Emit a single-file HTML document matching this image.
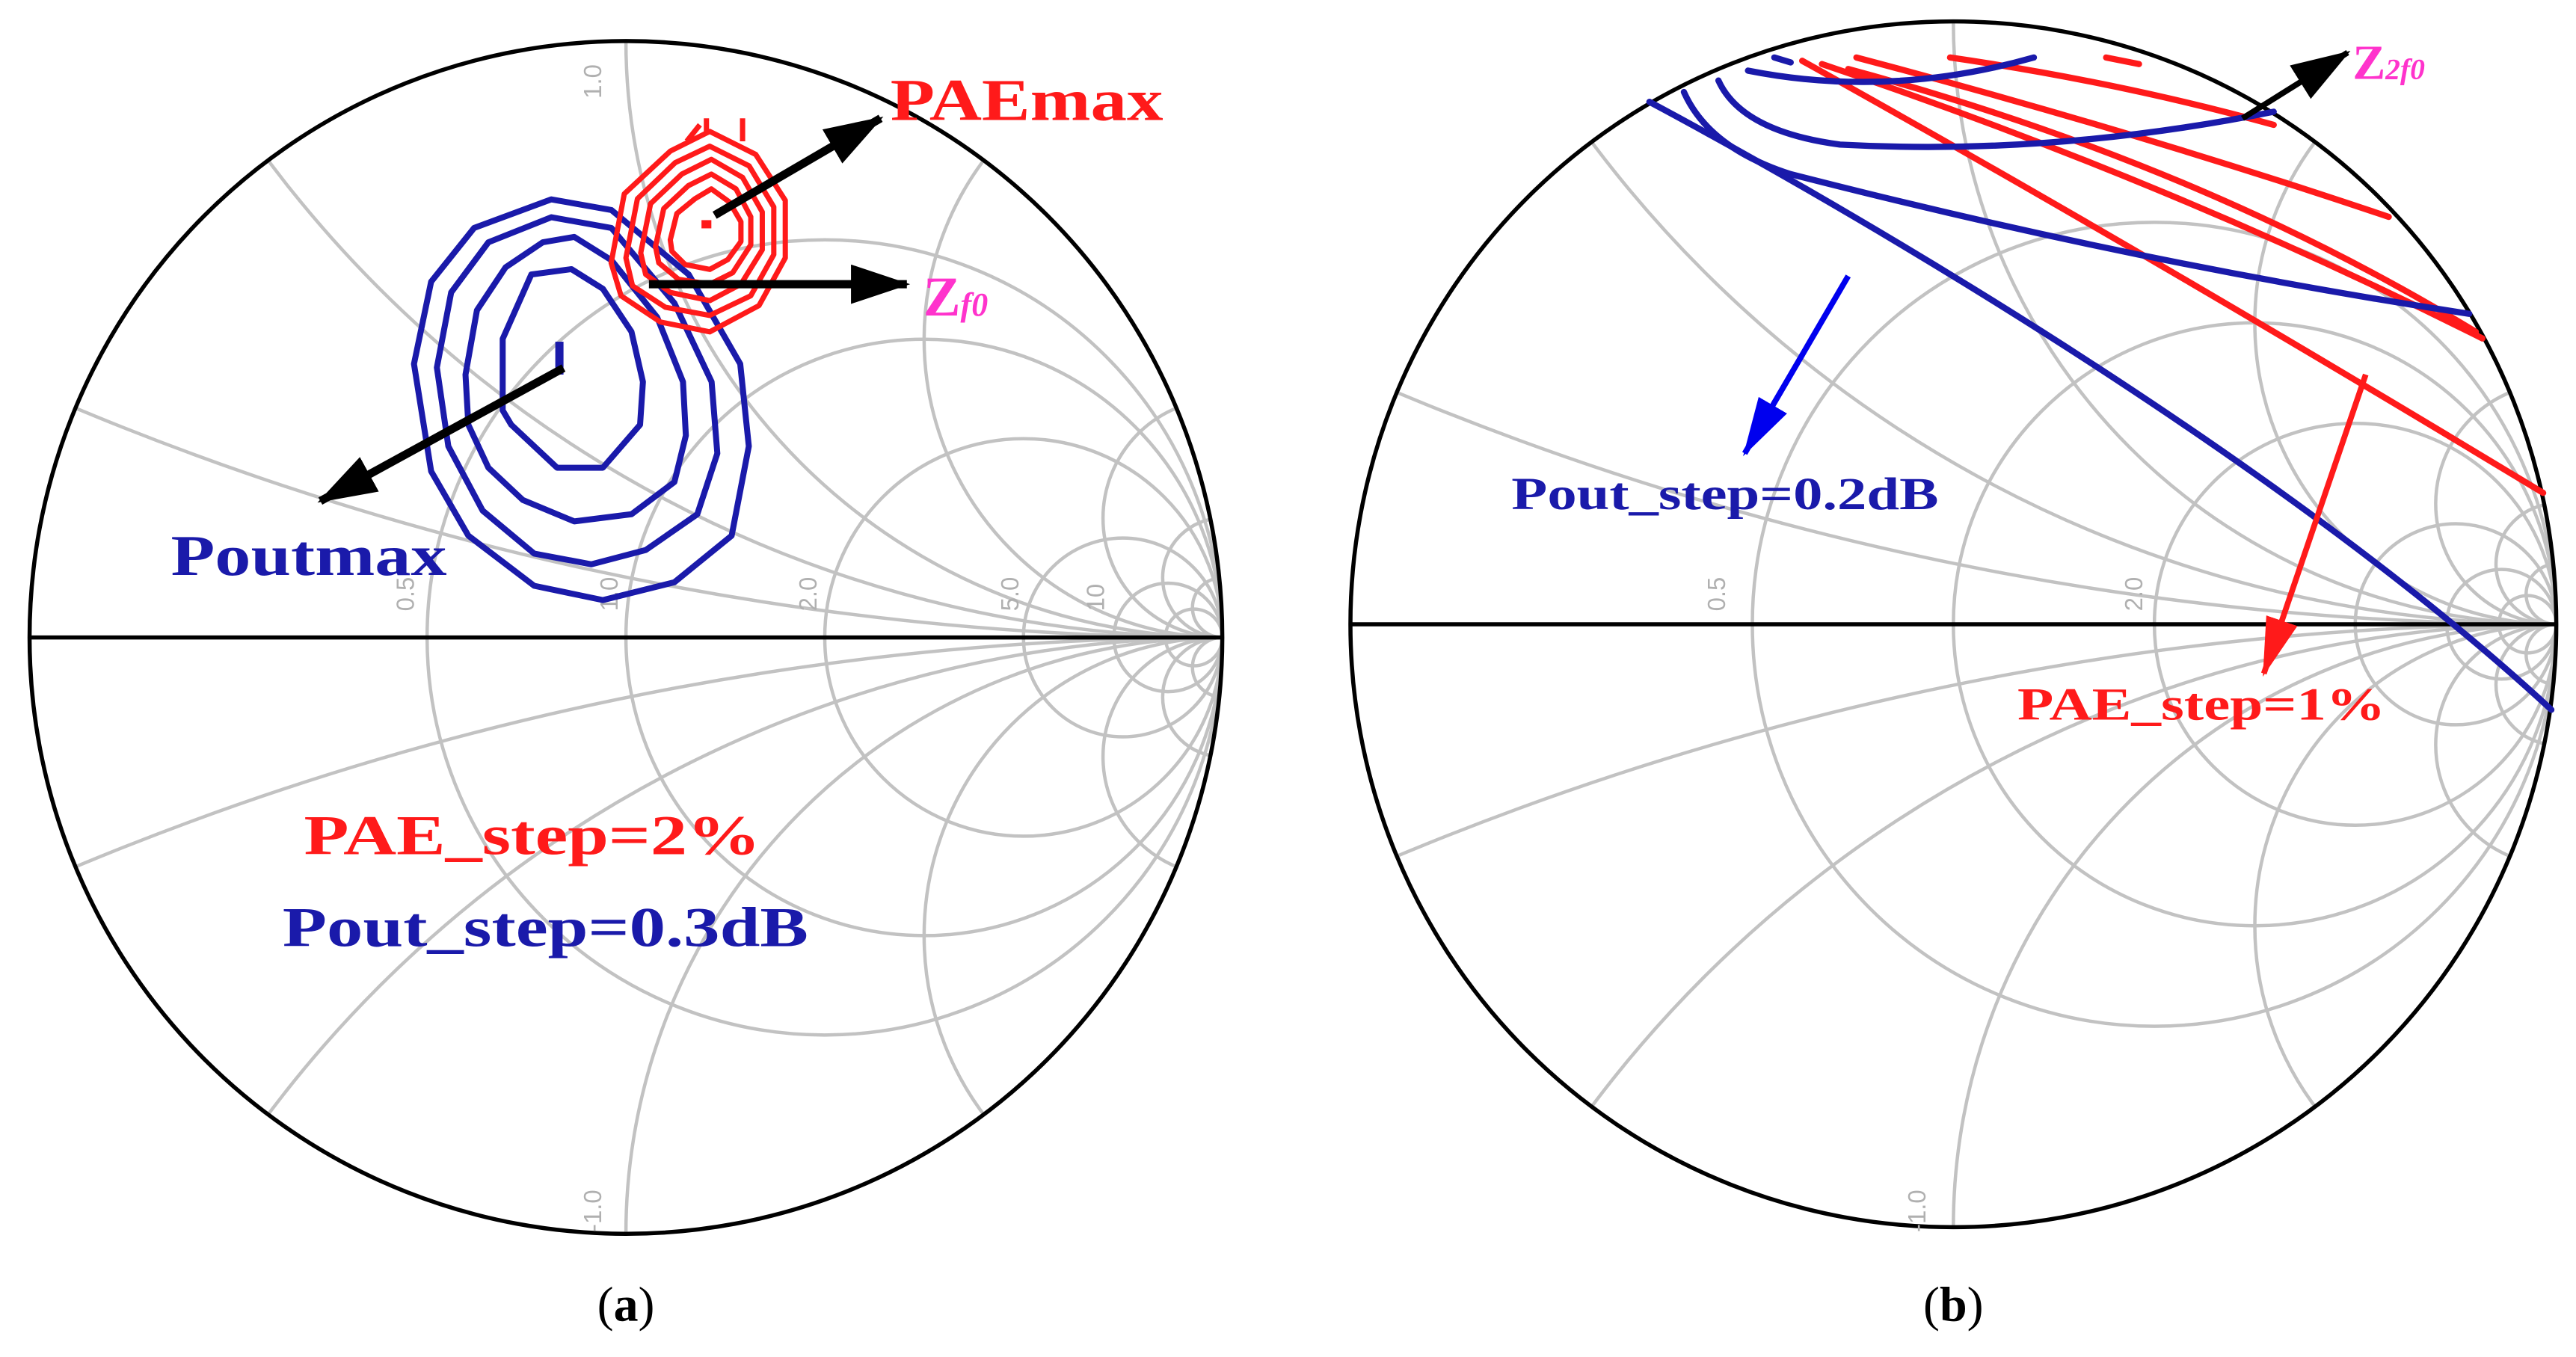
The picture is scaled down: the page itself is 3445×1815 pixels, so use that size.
<!DOCTYPE html>
<html><head><meta charset="utf-8"><style>html,body{margin:0;padding:0;background:#fff;overflow:hidden;width:3445px;height:1815px}svg{display:block}</style></head><body>
<svg width="3445" height="1815" viewBox="0 0 1568 826" preserveAspectRatio="none" xmlns="http://www.w3.org/2000/svg">
<defs>
<clipPath id="uc"><circle cx="0" cy="0" r="1"/></clipPath>
<g id="grid" fill="none" stroke="#c2c2c2" stroke-width="4.5" >
<g clip-path="url(#uc)">
<circle cx="0.3333" cy="0" r="0.6667" vector-effect="non-scaling-stroke"/>
<circle cx="0.5" cy="0" r="0.5" vector-effect="non-scaling-stroke"/>
<circle cx="0.6667" cy="0" r="0.3333" vector-effect="non-scaling-stroke"/>
<circle cx="0.8333" cy="0" r="0.1667" vector-effect="non-scaling-stroke"/>
<circle cx="0.9091" cy="0" r="0.0909" vector-effect="non-scaling-stroke"/>
<circle cx="0.9524" cy="0" r="0.0476" vector-effect="non-scaling-stroke"/>
<circle cx="1" cy="-5" r="5" vector-effect="non-scaling-stroke"/>
<circle cx="1" cy="5" r="5" vector-effect="non-scaling-stroke"/>
<circle cx="1" cy="-2" r="2" vector-effect="non-scaling-stroke"/>
<circle cx="1" cy="2" r="2" vector-effect="non-scaling-stroke"/>
<circle cx="1" cy="-1" r="1" vector-effect="non-scaling-stroke"/>
<circle cx="1" cy="1" r="1" vector-effect="non-scaling-stroke"/>
<circle cx="1" cy="-0.5" r="0.5" vector-effect="non-scaling-stroke"/>
<circle cx="1" cy="0.5" r="0.5" vector-effect="non-scaling-stroke"/>
<circle cx="1" cy="-0.2" r="0.2" vector-effect="non-scaling-stroke"/>
<circle cx="1" cy="0.2" r="0.2" vector-effect="non-scaling-stroke"/>
<circle cx="1" cy="-0.1" r="0.1" vector-effect="non-scaling-stroke"/>
<circle cx="1" cy="0.1" r="0.1" vector-effect="non-scaling-stroke"/>
<circle cx="1" cy="-0.05" r="0.05" vector-effect="non-scaling-stroke"/>
<circle cx="1" cy="0.05" r="0.05" vector-effect="non-scaling-stroke"/>
</g>
<line x1="-1" y1="0" x2="1" y2="0" stroke="#000" stroke-width="5.5" vector-effect="non-scaling-stroke"/>
<circle cx="0" cy="0" r="1" stroke="#000" stroke-width="5.5" vector-effect="non-scaling-stroke"/>
</g>
<marker id="ak" markerUnits="userSpaceOnUse" markerWidth="40" markerHeight="30" refX="34" refY="12" orient="auto"><path d="M0,0 L36,12 L0,24 Z" fill="#000"/></marker>
<marker id="ab" markerUnits="userSpaceOnUse" markerWidth="40" markerHeight="30" refX="34" refY="10" orient="auto"><path d="M0,0 L36,10 L0,20 Z" fill="#0000ee"/></marker>
<marker id="ar" markerUnits="userSpaceOnUse" markerWidth="40" markerHeight="30" refX="34" refY="10" orient="auto"><path d="M0,0 L36,10 L0,20 Z" fill="#ff1a1a"/></marker>
</defs>

<use href="#grid" transform="translate(381,388) scale(363)"/>
<use href="#grid" transform="translate(1189,380) scale(367)"/>

<g font-family="Liberation Sans, sans-serif" font-size="15" fill="#b0b0b0">
<text x="366" y="60" transform="rotate(-90 366 60)">1.0</text>
<text x="252" y="372" transform="rotate(-90 252 372)">0.5</text>
<text x="376" y="372" transform="rotate(-90 376 372)">1.0</text>
<text x="497" y="372" transform="rotate(-90 497 372)">2.0</text>
<text x="620" y="372" transform="rotate(-90 620 372)">5.0</text>
<text x="672" y="372" transform="rotate(-90 672 372)">10</text>
<text x="1050" y="372" transform="rotate(-90 1050 372)">0.5</text>
<text x="1304" y="372" transform="rotate(-90 1304 372)">2.0</text>
<text x="1172" y="750" transform="rotate(-90 1172 750)">-1.0</text>
<text x="366" y="750" transform="rotate(-90 366 750)">-1.0</text>
</g>

<g fill="none" stroke="#1a1aaa" stroke-width="8" stroke-linejoin="round" transform="translate(227.6,36.4) scale(0.1742,0.2178)">
<path vector-effect="non-scaling-stroke" d="M140,850 L200,620 L350,470 L620,390 L830,420 L1100,600 L1280,850 L1310,1080 L1250,1330 L1050,1460 L800,1510 L560,1470 L330,1330 L200,1150 Z"/>
<path vector-effect="non-scaling-stroke" d="M220,860 L270,650 L400,510 L620,440 L830,470 L1050,680 L1180,900 L1200,1100 L1130,1270 L950,1370 L760,1410 L560,1380 L380,1260 L260,1080 Z"/>
<path vector-effect="non-scaling-stroke" d="M320,880 L360,700 L460,580 L590,510 L700,495 L830,560 L990,720 L1080,900 L1090,1050 L1050,1180 L900,1270 L700,1290 L520,1230 L400,1140 L330,1020 Z"/>
<path vector-effect="non-scaling-stroke" d="M450,980 L450,780 L550,600 L690,585 L800,640 L900,760 L940,900 L930,1020 L800,1140 L640,1140 L480,1020 Z"/>
</g>
<rect x="338" y="208" width="5" height="20" fill="#1a1aaa"/>
<g fill="none" stroke="#ff1a1a" stroke-width="3.2" stroke-linejoin="round">
<path d="M372,160 L380,118 L408,92 L432,80 L460,94 L478,122 L478,157 L462,186 L432,202 L402,196 L378,180 Z"/>
<path d="M381,157 L388,121 L411,99 L432,89 L456,101 L471,126 L471,155 L457,180 L432,192 L405,187 L385,174 Z"/>
<path d="M390,154 L396,124 L415,106 L433,97 L452,108 L464,129 L464,152 L451,173 L432,183 L408,178 L393,167 Z"/>
<path d="M399,150 L404,127 L419,113 L433,106 L448,115 L457,132 L457,149 L446,166 L432,173 L413,170 L401,160 Z"/>
<path d="M408,146 L412,130 L423,121 L433,115 L444,123 L451,135 L451,147 L443,158 L432,164 L417,161 L409,153 Z"/>
<path d="M430,82 L430,72 M452,86 L452,72 M418,86 L426,76"/>
</g>
<rect x="427" y="134" width="6" height="5" fill="#ff1a1a"/>

<g stroke="#000" stroke-width="5" fill="none">
<line x1="343" y1="224" x2="195" y2="305" marker-end="url(#ak)"/>
<line x1="435" y1="131" x2="536" y2="72" marker-end="url(#ak)"/>
<line x1="395" y1="173" x2="552" y2="173" marker-end="url(#ak)"/>
</g>
<g font-family="Liberation Serif, serif" font-weight="bold">
<text x="542" y="73" font-size="36" fill="#ff1a1a" textLength="166" lengthAdjust="spacingAndGlyphs">PAEmax</text>
<text x="562" y="192" font-size="34" fill="#ff33cc">Z<tspan font-size="20" font-style="italic">f0</tspan></text>
<text x="104" y="350" font-size="35" fill="#1a1aaa" textLength="168" lengthAdjust="spacingAndGlyphs">Poutmax</text>
<text x="185" y="520" font-size="34" fill="#ff1a1a" textLength="278" lengthAdjust="spacingAndGlyphs">PAE_step=2%</text>
<text x="172" y="576" font-size="34" fill="#1a1aaa" textLength="320" lengthAdjust="spacingAndGlyphs">Pout_step=0.3dB</text>
</g>

<g fill="none" stroke="#ff1a1a" stroke-width="3.8" stroke-linecap="round">
<path d="M1097,37 Q1300,150 1548,300"/>
<path d="M1109,39 Q1320,110 1511,206"/>
<path d="M1125,42 Q1340,100 1507,202"/>
<path d="M1130,35 Q1300,80 1454,132"/>
<path d="M1187,35 Q1290,50 1384,76"/>
<path d="M1282,35 L1302,39"/>
</g>
<g fill="none" stroke="#1a1aaa" stroke-width="3.8" stroke-linecap="round">
<path d="M1004,62 C1150,140 1400,290 1553,432"/>
<path d="M1025,56 Q1040,90 1090,106 Q1300,160 1503,191"/>
<path d="M1046,49 Q1060,80 1120,88 Q1250,95 1384,68"/>
<path d="M1064,43 Q1150,60 1238,35"/>
<path d="M1080,35 L1090,38"/>
</g>
<g stroke-width="3.5" fill="none">
<line x1="1365" y1="72" x2="1429" y2="32" stroke="#000" marker-end="url(#ak)"/>
<line x1="1125" y1="168" x2="1062" y2="276" stroke="#0000ee" marker-end="url(#ab)"/>
<line x1="1440" y1="228" x2="1378" y2="410" stroke="#ff1a1a" marker-end="url(#ar)"/>
</g>
<g font-family="Liberation Serif, serif" font-weight="bold">
<text x="920" y="310" font-size="28" fill="#1a1aaa" textLength="260" lengthAdjust="spacingAndGlyphs">Pout_step=0.2dB</text>
<text x="1228" y="438" font-size="28" fill="#ff1a1a" textLength="224" lengthAdjust="spacingAndGlyphs">PAE_step=1%</text>
<text x="1432" y="48" font-size="30" fill="#ff33cc">Z<tspan font-size="18" font-style="italic">2f0</tspan></text>
</g>

<g font-family="Liberation Serif, serif" font-size="30" fill="#000">
<text x="381" y="804" text-anchor="middle">(<tspan font-weight="bold">a</tspan>)</text>
<text x="1189" y="804" text-anchor="middle">(<tspan font-weight="bold">b</tspan>)</text>
</g>
</svg>
</body></html>
